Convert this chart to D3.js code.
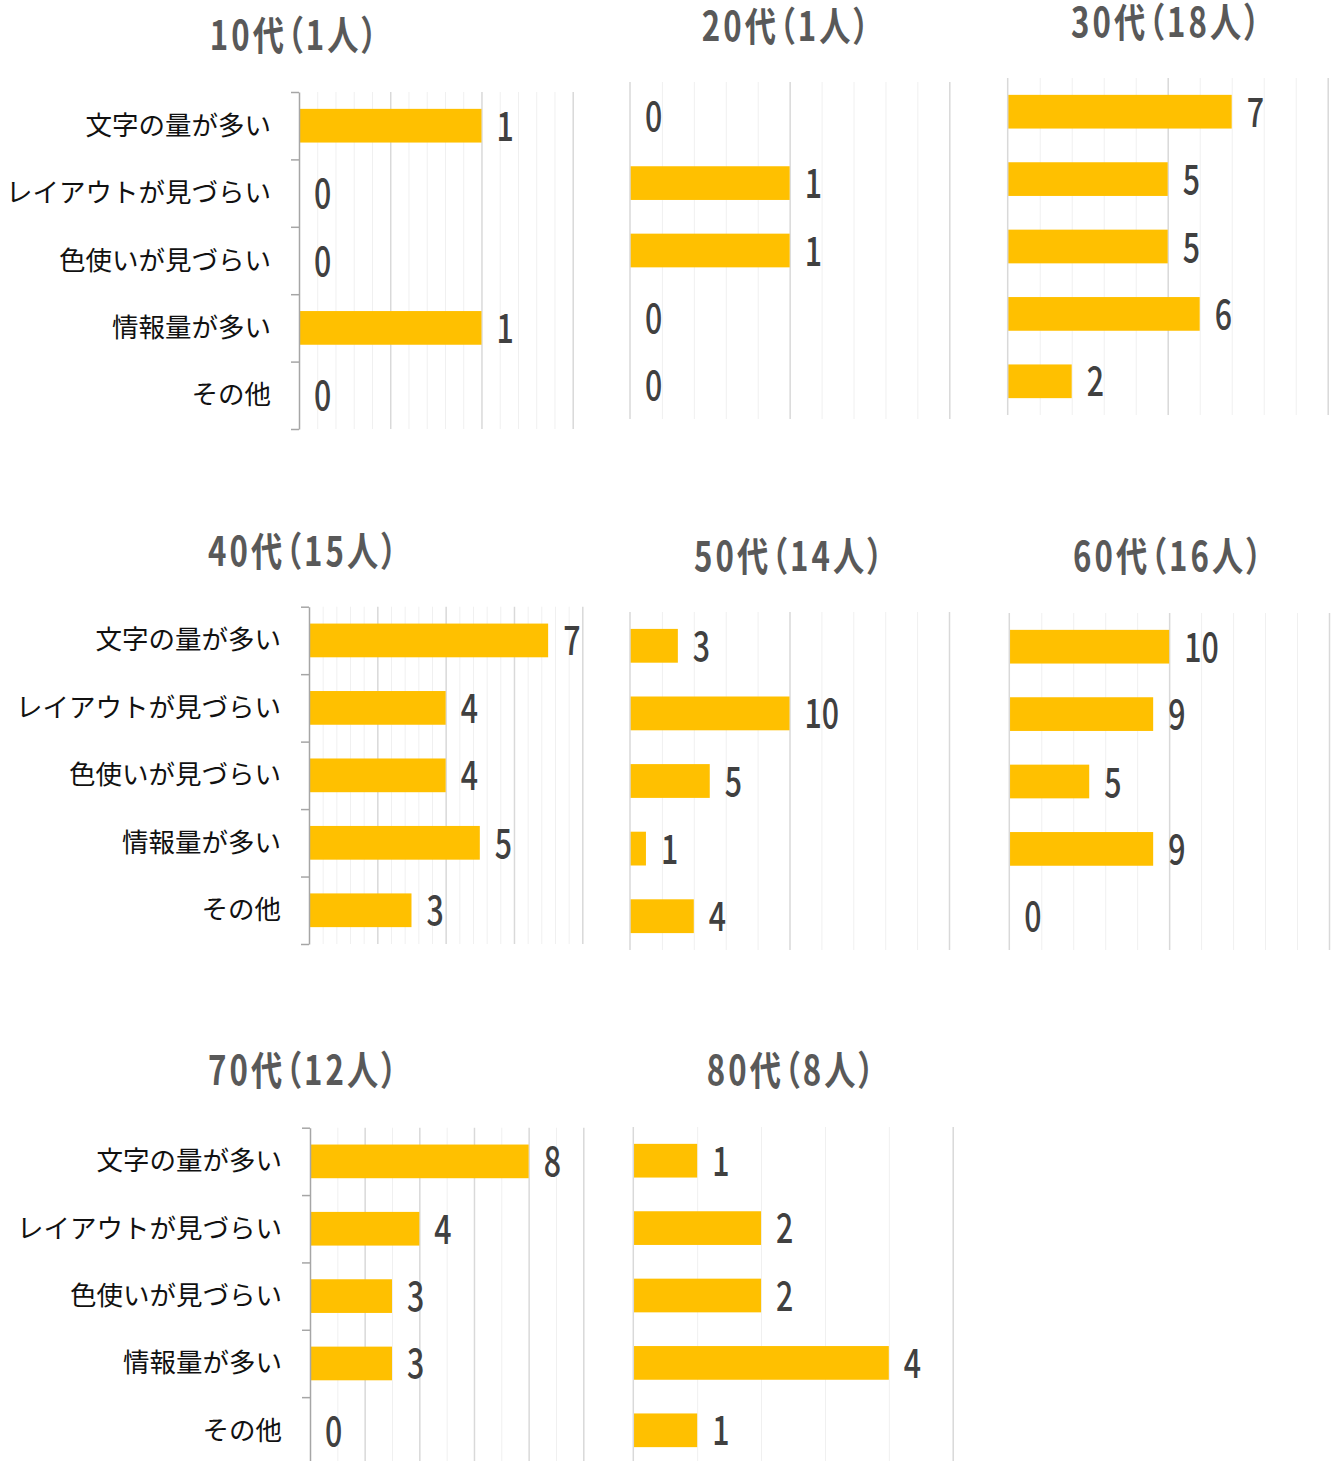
<!DOCTYPE html>
<html>
<head>
<meta charset="utf-8">
<script src="https://cdn.jsdelivr.net/npm/d3@7"></script>
<style>
  html, body { margin: 0; padding: 0; background: #ffffff; }
  svg { display: block; }
  .title { font-feature-settings: "palt"; }
</style>
</head>
<body>
<svg id="chart" width="1332" height="1461"></svg>
<script>
// ---- data ----
const categories = ["文字の量が多い", "レイアウトが見づらい", "色使いが見づらい", "情報量が多い", "その他"];
const titles = ["10代（1人）", "20代（1人）", "30代（18人）", "40代（15人）", "50代（14人）", "60代（16人）", "70代（12人）", "80代（8人）"];
const values10 = [1, 0, 0, 1, 0];
const values20 = [0, 1, 1, 0, 0];
const values30 = [7, 5, 5, 6, 2];
const values40 = [7, 4, 4, 5, 3];
const values50 = [3, 10, 5, 1, 4];
const values60 = [10, 9, 5, 9, 0];
const values70 = [8, 4, 3, 3, 0];
const values80 = [1, 2, 2, 4, 1];
const seriesValues = [values10, values20, values30, values40, values50, values60, values70, values80];
const axisMax = [1.5, 2, 10, 8, 20, 20, 10, 5];
const majorStep = [0.5, 1, 5, 2, 10, 10, 2, 5];
const minorStep = [0.1, 0.2, 1, 0.4, 2, 2, 1, 1];

// ---- layout (positions / styles) ----
const layout = [
  { x0: 299,    x1: 572.7,  top: 92,     bottom: 429,    ticks: true,  labelRight: 271, tx: 295,  ty: 50 },
  { x0: 630,    x1: 949.3,  top: 82,     bottom: 419,    ticks: false, tx: 787,  ty: 41 },
  { x0: 1007.7, x1: 1327.7, top: 78,     bottom: 415,    ticks: false, tx: 1167, ty: 37 },
  { x0: 309,    x1: 582.3,  top: 606.7,  bottom: 944,    ticks: true,  labelRight: 281, tx: 304,  ty: 566 },
  { x0: 630,    x1: 949,    top: 612,    bottom: 950,    ticks: false, tx: 790,  ty: 571 },
  { x0: 1009.3, x1: 1329,   top: 613,    bottom: 950,    ticks: false, tx: 1169, ty: 571 },
  { x0: 310,    x1: 583.3,  top: 1127.7, bottom: 1464.5, ticks: true,  labelRight: 282, tx: 304,  ty: 1085 },
  { x0: 633.3,  x1: 952.7,  top: 1127,   bottom: 1464,   ticks: false, tx: 792,  ty: 1085 }
];

const BAR = "#FFC000";
const MAJOR = "#d9d9d9";
const MINOR = "#f0f0f0";
const AXIS = "#a6a6a6";
const CJK = "'Noto Sans CJK JP', 'Noto Sans CJK SC', sans-serif";

const svg = d3.select("#chart");

function stepValues(max, step) {
  const n = Math.round(max / step);
  return d3.range(0, n + 1).map(i => +(i * step).toFixed(6));
}

seriesValues.forEach((vals, i) => {
  const L = layout[i];
  const g = svg.append("g");
  const x = d3.scaleLinear().domain([0, axisMax[i]]).range([L.x0, L.x1]);
  const y = d3.scaleBand().domain(categories).range([L.top, L.bottom])
    .paddingInner(0.5).paddingOuter(0.25);
  const h = L.bottom - L.top;

  // minor gridlines
  const minorVals = stepValues(axisMax[i], minorStep[i]);
  const majorVals = stepValues(axisMax[i], majorStep[i]);
  const minorOnly = minorVals.filter(v => !majorVals.some(m => Math.abs(m - v) < 1e-6));
  g.append("g")
    .attr("transform", `translate(0,${L.bottom})`)
    .call(d3.axisBottom(x).tickValues(minorOnly).tickSize(-h).tickFormat(""))
    .call(s => s.select(".domain").remove())
    .call(s => s.selectAll("line").attr("stroke", MINOR).attr("stroke-width", 1));
  // major gridlines
  g.append("g")
    .attr("transform", `translate(0,${L.bottom})`)
    .call(d3.axisBottom(x).tickValues(majorVals.filter(v => v > 0)).tickSize(-h).tickFormat(""))
    .call(s => s.select(".domain").remove())
    .call(s => s.selectAll("line").attr("stroke", MAJOR).attr("stroke-width", 1.5));

  // bars
  g.selectAll("rect.bar").data(vals).join("rect")
    .attr("class", "bar")
    .attr("x", x(0))
    .attr("y", (d, k) => y(categories[k]))
    .attr("width", d => x(d) - x(0))
    .attr("height", y.bandwidth())
    .attr("fill", BAR);

  // value axis line / category axis
  if (L.ticks) {
    const yb = d3.scaleLinear().domain([0, categories.length]).range([L.top, L.bottom]);
    g.append("g")
      .attr("transform", `translate(${x(0)},0)`)
      .call(d3.axisLeft(yb).tickValues(d3.range(categories.length + 1)).tickSize(8).tickSizeOuter(0).tickFormat(""))
      .call(s => s.selectAll("line, path").attr("stroke", AXIS).attr("stroke-width", 1.5));
    g.selectAll("text.cat").data(categories).join("text")
      .attr("class", "cat")
      .attr("x", L.labelRight)
      .attr("y", d => y(d) + y.bandwidth() / 2 + 9)
      .attr("text-anchor", "end")
      .attr("font-family", CJK)
      .attr("font-size", 26.5)
      .attr("fill", "#111")
      .text(d => d);
  } else {
    g.append("line")
      .attr("x1", x(0)).attr("x2", x(0))
      .attr("y1", L.top).attr("y2", L.bottom)
      .attr("stroke", MAJOR).attr("stroke-width", 1.5);
  }

  // value labels
  g.selectAll("text.val").data(vals).join("text")
    .attr("class", "val")
    .attr("transform", (d, k) => `translate(${x(d) + 15},${y(categories[k]) + y.bandwidth() / 2 + 15}) scale(0.74,1)`)
    .attr("font-family", CJK)
    .attr("font-size", 41)
    .attr("font-weight", 500)
    .attr("fill", "#404040")
    .text(d => d);

  // title
  g.append("text")
    .attr("class", "title")
    .attr("transform", `translate(${L.tx},${L.ty}) scale(0.78,1)`)
    .attr("text-anchor", "middle")
    .attr("font-family", CJK)
    .attr("font-size", 40)
    .attr("font-weight", 700)
    .attr("letter-spacing", 4)
    .attr("fill", "#595959")
    .text(titles[i]);
});
</script>
</body>
</html>
